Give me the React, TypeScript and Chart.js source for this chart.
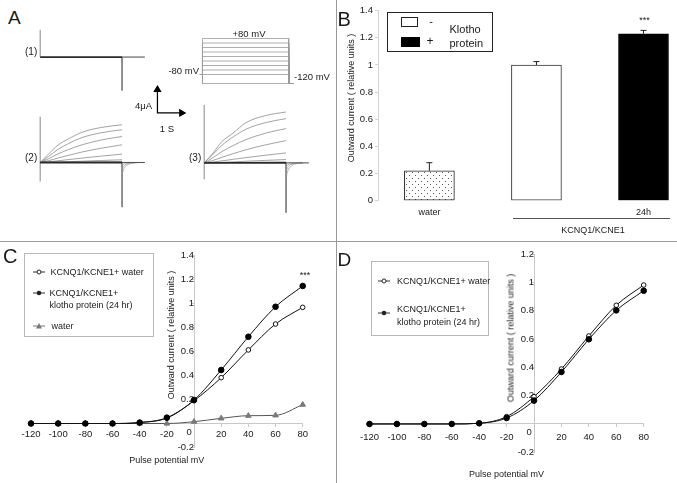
import React, { useEffect, useRef } from 'react';
import { Chart, registerables } from 'chart.js';

Chart.register(...registerables);

const FONT = '"Liberation Sans", Arial, Helvetica, sans-serif';
Chart.defaults.font.family = FONT;
Chart.defaults.font.size = 9.5;
Chart.defaults.color = '#1a1a1a';

// ---------------- Panel A : current traces (time in s, current in μA) ----------------
const sweepTimes = [0, 0.27, 0.58, 0.93, 1.36, 2.0, 2.66];
const pulseEnd = 2.66;
const recordEnd = 3.4;
const tailTimes = [2.66, 2.72, 2.82, 2.98, 3.2];

const trace1Onset = [0, 3.5];
const trace1Offset = [0, -4.3];

const trace2Sweeps = [
  [0, 1.07, 2.24, 3.06, 3.89, 4.52, 4.86],
  [0, 0.76, 1.69, 2.45, 3.21, 3.84, 4.22],
  [0, 0.47, 1.11, 1.68, 2.28, 2.91, 3.35],
  [0, 0.23, 0.57, 0.93, 1.35, 1.85, 2.28],
  [0, 0.09, 0.22, 0.38, 0.57, 0.83, 1.08],
  [0, 0.02, 0.06, 0.11, 0.17, 0.26, 0.35],
  [0, 0.01, 0.02, 0.03, 0.04, 0.07, 0.09],
];
const trace2Onset = [-2.45, 5.9];
const trace2Offset = [0, -5.75];
const trace2Tails = [
  [-1.5, -0.8, -0.35, -0.1, 0],
  [-0.9, -0.45, -0.18, -0.05, 0],
  [-0.45, -0.2, -0.08, -0.02, 0],
];

const trace3Sweeps = [
  [0, 1.18, 2.76, 3.82, 5.2, 6.12, 6.58],
  [0, 1.03, 2.29, 3.32, 4.35, 5.21, 5.72],
  [0, 0.62, 1.46, 2.22, 3.01, 3.85, 4.43],
  [0, 0.29, 0.72, 1.18, 1.7, 2.33, 2.88],
  [0, 0.1, 0.26, 0.45, 0.68, 0.99, 1.29],
  [0, 0.03, 0.07, 0.13, 0.21, 0.32, 0.43],
  [0, 0.01, 0.02, 0.04, 0.06, 0.1, 0.13],
];
const trace3Onset = [-2.15, 7.5];
const trace3Offset = [0, -6.45];
const trace3Tails = [
  [-1.9, -1.0, -0.45, -0.12, 0],
  [-1.1, -0.55, -0.22, -0.06, 0],
  [-0.5, -0.25, -0.1, -0.03, 0],
];

// voltage protocol (mV)
const protocolLevels = [80, 60, 40, 20, 0, -20, -40, -60, -80, -120];
const holdingPotential = -80;
const tailPotential = -120;
const protocolTimes = [-0.08, 0, 2.66, 2.82];

// scale bar
const scaleBarCurrent = 4; // μA
const scaleBarTime = 1; // s

// ---------------- Panel B : bar chart ----------------
const barLabels = ['water', '', '24h'];
const barValues = [0.22, 1.0, 1.23];
const barErrors = [0.06, 0.025, 0.025];
const barGroupLabel = 'KCNQ1/KCNE1';

// ---------------- Panels C / D : I-V curves ----------------
const ivVoltages = [-120, -100, -80, -60, -40, -20, 0, 20, 40, 60, 80];
const cWater = [0, 0, 0, 0, 0.008, 0.045, 0.19, 0.382, 0.613, 0.829, 0.968];
const cKlotho = [0, 0, 0, 0, 0.008, 0.049, 0.196, 0.446, 0.723, 0.973, 1.146];
const cWaterOnly = [0, 0, 0, 0, 0, 0, 0.015, 0.043, 0.065, 0.068, 0.157];
const dWater = [0, 0, 0, 0, 0.005, 0.052, 0.193, 0.388, 0.621, 0.838, 0.981];
const dKlotho = [0, 0, 0, 0, 0.005, 0.042, 0.165, 0.367, 0.598, 0.802, 0.941];

const Y_TITLE = 'Outward current ( relative units )';
const X_TITLE = 'Pulse potential mV';

// ---------------- helpers ----------------
type Box = { left: number; top: number; width: number; height: number };

const baseOptions = {
  responsive: false,
  animation: false as const,
  events: [] as any[],
  plugins: { legend: { display: false }, tooltip: { enabled: false } },
};

function line(data: { x: number; y: number }[], color: string, width: number, smooth = false) {
  return {
    type: 'line',
    data,
    borderColor: color,
    borderWidth: width,
    pointRadius: 0,
    fill: false,
    tension: 0,
    cubicInterpolationMode: smooth ? 'monotone' : 'default',
    clip: false,
  };
}

function traceConfig(
  sweeps: number[][],
  tails: number[][],
  onset: number[],
  offset: number[],
  iMin: number,
  iMax: number
) {
  const datasets: any[] = [];
  datasets.push(line([{ x: 0, y: 0 }, { x: pulseEnd, y: 0 }], '#2a2a2a', 1.8));
  datasets.push(line([{ x: pulseEnd, y: 0 }, { x: recordEnd, y: 0 }], '#555', 1.1));
  sweeps.forEach((s) => datasets.push(line(s.map((v, i) => ({ x: sweepTimes[i], y: v })), '#8c8c8c', 0.8, true)));
  tails.forEach((t) => datasets.push(line(t.map((v, i) => ({ x: tailTimes[i], y: v })), '#9a9a9a', 0.7, true)));
  datasets.push(line(onset.map((v) => ({ x: 0, y: v })), '#7a7a7a', 0.9));
  datasets.push(line(offset.map((v) => ({ x: pulseEnd, y: v })), '#7a7a7a', 0.9));
  return {
    type: 'line',
    data: { datasets },
    options: {
      ...baseOptions,
      layout: { padding: 0 },
      scales: {
        x: { type: 'linear', min: -0.2, max: 3.6, display: false },
        y: { type: 'linear', min: iMin, max: iMax, display: false },
      },
    },
  };
}

function protocolConfig() {
  const datasets = protocolLevels.map((v) =>
    line(
      [
        { x: protocolTimes[0], y: holdingPotential },
        { x: protocolTimes[1], y: holdingPotential },
        { x: protocolTimes[1], y: v },
        { x: protocolTimes[2], y: v },
        { x: protocolTimes[2], y: tailPotential },
        { x: protocolTimes[3], y: tailPotential },
      ],
      '#9a9a9a',
      0.8
    )
  );
  return {
    type: 'line',
    data: { datasets },
    options: {
      ...baseOptions,
      layout: { padding: 0 },
      scales: {
        x: { type: 'linear', min: -0.2, max: 3.1, display: false },
        y: { type: 'linear', min: -140, max: 100, display: false },
      },
    },
  };
}

function scaleBarConfig() {
  return {
    type: 'line',
    data: {
      datasets: [
        {
          data: [
            { x: 0, y: scaleBarCurrent },
            { x: 0, y: 0 },
            { x: scaleBarTime, y: 0 },
          ],
          borderColor: '#000',
          borderWidth: 1.2,
          pointStyle: 'triangle',
          pointRadius: [3.6, 0, 3.6],
          pointRotation: [0, 0, 90],
          pointBackgroundColor: '#000',
          pointBorderColor: '#000',
          tension: 0,
          clip: false,
        },
      ],
    },
    options: {
      ...baseOptions,
      layout: { padding: 0 },
      scales: {
        x: { type: 'linear', min: -0.3, max: 1.3, display: false },
        y: { type: 'linear', min: -0.5, max: 4.6, display: false },
      },
    },
  };
}

const errorBarPlugin = {
  id: 'errorBars',
  afterDatasetsDraw(chart: any) {
    const { ctx, scales } = chart;
    const meta = chart.getDatasetMeta(0);
    ctx.save();
    ctx.strokeStyle = '#222';
    ctx.lineWidth = 1;
    meta.data.forEach((bar: any, i: number) => {
      const base = scales.y.getPixelForValue(barValues[i]);
      const top = scales.y.getPixelForValue(barValues[i] + barErrors[i]);
      ctx.beginPath();
      ctx.moveTo(bar.x, base);
      ctx.lineTo(bar.x, top);
      ctx.moveTo(bar.x - 3, top);
      ctx.lineTo(bar.x + 3, top);
      ctx.stroke();
    });
    ctx.restore();
  },
};

function barConfig(canvas: HTMLCanvasElement) {
  const ctx = canvas.getContext('2d')!;
  const tile = document.createElement('canvas');
  tile.width = 6;
  tile.height = 6;
  const tg = tile.getContext('2d')!;
  tg.fillStyle = '#ffffff';
  tg.fillRect(0, 0, 6, 6);
  tg.fillStyle = '#5a5a5a';
  tg.fillRect(1, 1, 1, 1);
  tg.fillRect(4, 4, 1, 1);
  const dots = ctx.createPattern(tile, 'repeat');
  return {
    type: 'bar',
    data: {
      datasets: [
        {
          data: barValues.map((v, i) => ({ x: i + 1, y: v })),
          backgroundColor: [dots, '#ffffff', '#000000'],
          borderColor: ['#222', '#333', '#000'],
          borderWidth: 1,
          borderSkipped: false,
          barThickness: 50,
        },
      ],
    },
    options: {
      ...baseOptions,
      layout: { padding: { left: 0, right: 4.6, top: 10.7, bottom: 0 } },
      scales: {
        x: {
          type: 'linear',
          min: 0.52,
          max: 3.27,
          offset: false,
          grid: { display: false, drawTicks: false, tickLength: 0 },
          border: { display: false },
          ticks: {
            stepSize: 1,
            includeBounds: false,
            padding: 6,
            autoSkip: false,
            maxRotation: 0,
            font: { size: 9 },
            callback: (v: number) => (Number.isInteger(v) ? barLabels[v - 1] ?? '' : ''),
          },
          afterFit: (s: any) => {
            s.height = 40.3;
          },
        },
        y: {
          type: 'linear',
          min: 0,
          max: 1.4,
          ticks: { stepSize: 0.2, padding: 2, callback: (v: number) => String(Math.round(v * 10) / 10) },
          grid: { drawOnChartArea: false, tickLength: 3, color: '#d4d4d4' },
          border: { color: '#d4d4d4' },
          afterFit: (s: any) => {
            s.width = 42;
          },
        },
      },
    },
    plugins: [errorBarPlugin],
  };
}

const zeroLabelPlugin = {
  id: 'zeroLabel',
  afterDraw(chart: any) {
    const { ctx, scales } = chart;
    const x = scales.x.getPixelForValue(0);
    const y = scales.y.getPixelForValue(0);
    ctx.save();
    ctx.font = `9.5px ${FONT}`;
    ctx.fillStyle = '#1a1a1a';
    ctx.textAlign = 'center';
    ctx.textBaseline = 'middle';
    ctx.fillText('0', x - 5, y + 8.5);
    ctx.restore();
  },
};

function ivDataset(values: number[], kind: 'open' | 'filled' | 'tri') {
  const base: any = {
    type: 'line',
    data: ivVoltages.map((v, i) => ({ x: v, y: values[i] })),
    borderColor: '#111',
    borderWidth: 1,
    cubicInterpolationMode: 'monotone',
    fill: false,
    clip: false,
  };
  if (kind === 'open')
    return { ...base, pointStyle: 'circle', pointRadius: 2.3, pointBackgroundColor: '#fff', pointBorderColor: '#111', pointBorderWidth: 1 };
  if (kind === 'filled')
    return { ...base, pointStyle: 'circle', pointRadius: 2.8, pointBackgroundColor: '#000', pointBorderColor: '#000', pointBorderWidth: 1 };
  return {
    ...base,
    borderColor: '#555',
    pointStyle: 'triangle',
    pointRadius: 3.2,
    pointBackgroundColor: '#7a7a7a',
    pointBorderColor: '#7a7a7a',
  };
}

const fmtNoZero = (v: number) => {
  const r = Math.round(v * 10) / 10;
  return Math.abs(r) < 1e-9 ? '' : String(r);
};

function ivConfig(
  datasets: any[],
  yMin: number,
  yMax: number,
  padding: any,
  tickPad: number,
  titlePad: number
) {
  return {
    type: 'line',
    data: { datasets },
    options: {
      ...baseOptions,
      layout: { padding },
      scales: {
        x: {
          type: 'linear',
          axis: 'x',
          min: -120,
          max: 80,
          position: { y: 0 },
          ticks: { stepSize: 20, padding: tickPad, autoSkip: false, maxRotation: 0, callback: fmtNoZero },
          grid: { drawOnChartArea: false, tickLength: 3, color: '#c8c8c8' },
          border: { color: '#c8c8c8' },
          title: { display: true, text: X_TITLE, font: { size: 9 }, padding: { top: titlePad, bottom: 0 } },
        },
        y: {
          type: 'linear',
          axis: 'y',
          min: yMin,
          max: yMax,
          position: { x: 0 },
          ticks: { stepSize: 0.2, padding: 2, callback: fmtNoZero },
          grid: { drawOnChartArea: false, tickLength: 3, color: '#c8c8c8' },
          border: { color: '#c8c8c8' },
        },
      },
    },
    plugins: [zeroLabelPlugin],
  };
}

// ---------------- components ----------------
function ChartCanvas({ box, build }: { box: Box; build: (c: HTMLCanvasElement) => any }) {
  const ref = useRef<HTMLCanvasElement>(null);
  useEffect(() => {
    if (!ref.current) return;
    const chart = new Chart(ref.current, build(ref.current));
    return () => chart.destroy();
  }, []);
  return (
    <canvas
      ref={ref}
      width={box.width}
      height={box.height}
      style={{ position: 'absolute', left: box.left, top: box.top, width: box.width, height: box.height }}
    />
  );
}

function Txt({
  x,
  y,
  size = 9,
  align = 'left',
  children,
  rotate = false,
}: {
  x: number;
  y: number;
  size?: number;
  align?: 'left' | 'center' | 'right';
  children: React.ReactNode;
  rotate?: boolean;
}) {
  const tx = rotate ? '-50%' : align === 'center' ? '-50%' : align === 'right' ? '-100%' : '0';
  return (
    <div
      style={{
        position: 'absolute',
        left: x,
        top: y,
        transform: `translate(${tx}, -50%)${rotate ? ' rotate(-90deg)' : ''}`,
        fontSize: size,
        lineHeight: 1,
        whiteSpace: 'nowrap',
        color: '#1a1a1a',
      }}
    >
      {children}
    </div>
  );
}

function Marker({ x, y, kind }: { x: number; y: number; kind: 'open' | 'filled' | 'tri' }) {
  const col = kind === 'tri' ? '#7a7a7a' : '#222';
  return (
    <svg style={{ position: 'absolute', left: x - 7, top: y - 4 }} width={14} height={8}>
      <line x1={1} y1={4} x2={13} y2={4} stroke={kind === 'tri' ? '#777' : '#333'} strokeWidth={1} />
      {kind === 'open' && <circle cx={7} cy={4} r={2} fill="#fff" stroke={col} strokeWidth={1} />}
      {kind === 'filled' && <circle cx={7} cy={4} r={2.3} fill={col} />}
      {kind === 'tri' && <polygon points="7,1 10,6.5 4,6.5" fill={col} />}
    </svg>
  );
}

const BOX_TRACE1: Box = { left: 34, top: 22, width: 117, height: 74 };
const BOX_TRACE2: Box = { left: 34, top: 112, width: 117, height: 101 };
const BOX_TRACE3: Box = { left: 198, top: 101, width: 117, height: 116 };
const BOX_PROTO: Box = { left: 196, top: 34, width: 107, height: 54 };
const BOX_SCALE: Box = { left: 145, top: 81, width: 49, height: 40 };
const BOX_B: Box = { left: 336, top: 0, width: 341, height: 241 };
const BOX_C: Box = { left: 0, top: 241, width: 336, height: 242 };
const BOX_D: Box = { left: 336, top: 241, width: 341, height: 242 };

export default function App() {
  return (
    <div
      style={{
        position: 'fixed',
        left: 0,
        top: 0,
        width: 677,
        height: 483,
        background: '#fff',
        overflow: 'hidden',
        fontFamily: FONT,
      }}
    >
      {/* panel dividers */}
      <div style={{ position: 'absolute', left: 336, top: 0, width: 1, height: 483, background: '#9a9a9a' }} />
      <div style={{ position: 'absolute', left: 0, top: 241, width: 677, height: 1, background: '#9a9a9a' }} />

      {/* ---------- A ---------- */}
      <ChartCanvas box={BOX_TRACE1} build={() => traceConfig([], [], trace1Onset, trace1Offset, -5, 4.5)} />
      <ChartCanvas
        box={BOX_TRACE2}
        build={() => traceConfig(trace2Sweeps, trace2Tails, trace2Onset, trace2Offset, -6.5, 6.5)}
      />
      <ChartCanvas
        box={BOX_TRACE3}
        build={() => traceConfig(trace3Sweeps, trace3Tails, trace3Onset, trace3Offset, -7, 8)}
      />
      <ChartCanvas box={BOX_PROTO} build={() => protocolConfig()} />
      <ChartCanvas box={BOX_SCALE} build={() => scaleBarConfig()} />
      <Txt x={8} y={17} size={19}>A</Txt>
      <Txt x={25} y={52} size={10}>(1)</Txt>
      <Txt x={25} y={158} size={10}>(2)</Txt>
      <Txt x={189} y={158} size={10}>(3)</Txt>
      <Txt x={249} y={33.5} size={9.5} align="center">+80 mV</Txt>
      <Txt x={199} y={71} size={9.5} align="right">-80 mV</Txt>
      <Txt x={294} y={76.5} size={9.5}>-120 mV</Txt>
      <Txt x={152} y={106} size={9.5} align="right">4μA</Txt>
      <Txt x={167} y={128.5} size={9.5} align="center">1 S</Txt>

      {/* ---------- B ---------- */}
      <ChartCanvas box={BOX_B} build={(c) => barConfig(c)} />
      <Txt x={337.5} y={19} size={20}>B</Txt>
      <Txt x={351} y={98} size={9} rotate>{Y_TITLE}</Txt>
      <Txt x={644.5} y={19.6} size={9} align="center">***</Txt>
      <div style={{ position: 'absolute', left: 513, top: 218, width: 157, height: 1, background: '#555' }} />
      <Txt x={593} y={230} size={9} align="center">{barGroupLabel}</Txt>
      <div
        style={{
          position: 'absolute',
          left: 387,
          top: 12,
          width: 106,
          height: 40,
          border: '1px solid #222',
          boxSizing: 'border-box',
        }}
      />
      <div
        style={{
          position: 'absolute',
          left: 401,
          top: 17,
          width: 17,
          height: 10,
          border: '1px solid #222',
          boxSizing: 'border-box',
          background: '#fff',
        }}
      />
      <div style={{ position: 'absolute', left: 401, top: 36.5, width: 19, height: 10, background: '#000' }} />
      <Txt x={431} y={20.5} size={11} align="center">-</Txt>
      <Txt x={430} y={40.5} size={12} align="center">+</Txt>
      <Txt x={449.5} y={29} size={11}>Klotho</Txt>
      <Txt x={449.5} y={42.5} size={11}>protein</Txt>

      {/* ---------- C ---------- */}
      <ChartCanvas
        box={BOX_C}
        build={() =>
          ivConfig(
            [ivDataset(cKlotho, 'filled'), ivDataset(cWater, 'open'), ivDataset(cWaterOnly, 'tri')],
            -0.2,
            1.4,
            { left: 31, right: 33.3, top: 14.5, bottom: 35.5 },
            2,
            13
          )
        }
      />
      <Txt x={3} y={255.5} size={20}>C</Txt>
      <Txt x={171} y={335} size={9} rotate>{Y_TITLE}</Txt>
      <Txt x={305} y={275} size={9} align="center">***</Txt>
      <div
        style={{
          position: 'absolute',
          left: 24,
          top: 253,
          width: 130,
          height: 84,
          border: '1px solid #b8b8b8',
          boxSizing: 'border-box',
        }}
      />
      <Marker x={39} y={271.5} kind="open" />
      <Txt x={50.5} y={271.5}>KCNQ1/KCNE1+ water</Txt>
      <Marker x={39} y={292.5} kind="filled" />
      <Txt x={49.5} y={292.5}>KCNQ1/KCNE1+</Txt>
      <Txt x={49.5} y={304.5}>klotho protein (24 hr)</Txt>
      <Marker x={39} y={326} kind="tri" />
      <Txt x={51.5} y={326}>water</Txt>

      {/* ---------- D ---------- */}
      <ChartCanvas
        box={BOX_D}
        build={() =>
          ivConfig(
            [ivDataset(dKlotho, 'filled'), ivDataset(dWater, 'open')],
            -0.2,
            1.2,
            { left: 33.5, right: 33.3, top: 13, bottom: 30.7 },
            5,
            20.5
          )
        }
      />
      <Txt x={337.5} y={259} size={19}>D</Txt>
      <Txt x={511} y={337.5} size={9} rotate>{Y_TITLE}</Txt>
      <div
        style={{
          position: 'absolute',
          left: 370.7,
          top: 260.7,
          width: 118.6,
          height: 75.3,
          border: '1px solid #b8b8b8',
          boxSizing: 'border-box',
        }}
      />
      <Marker x={383.5} y={281} kind="open" />
      <Txt x={397} y={281}>KCNQ1/KCNE1+ water</Txt>
      <Marker x={383.5} y={312.5} kind="filled" />
      <Txt x={397} y={309}>KCNQ1/KCNE1+</Txt>
      <Txt x={397} y={322}>klotho protein (24 hr)</Txt>
    </div>
  );
}
